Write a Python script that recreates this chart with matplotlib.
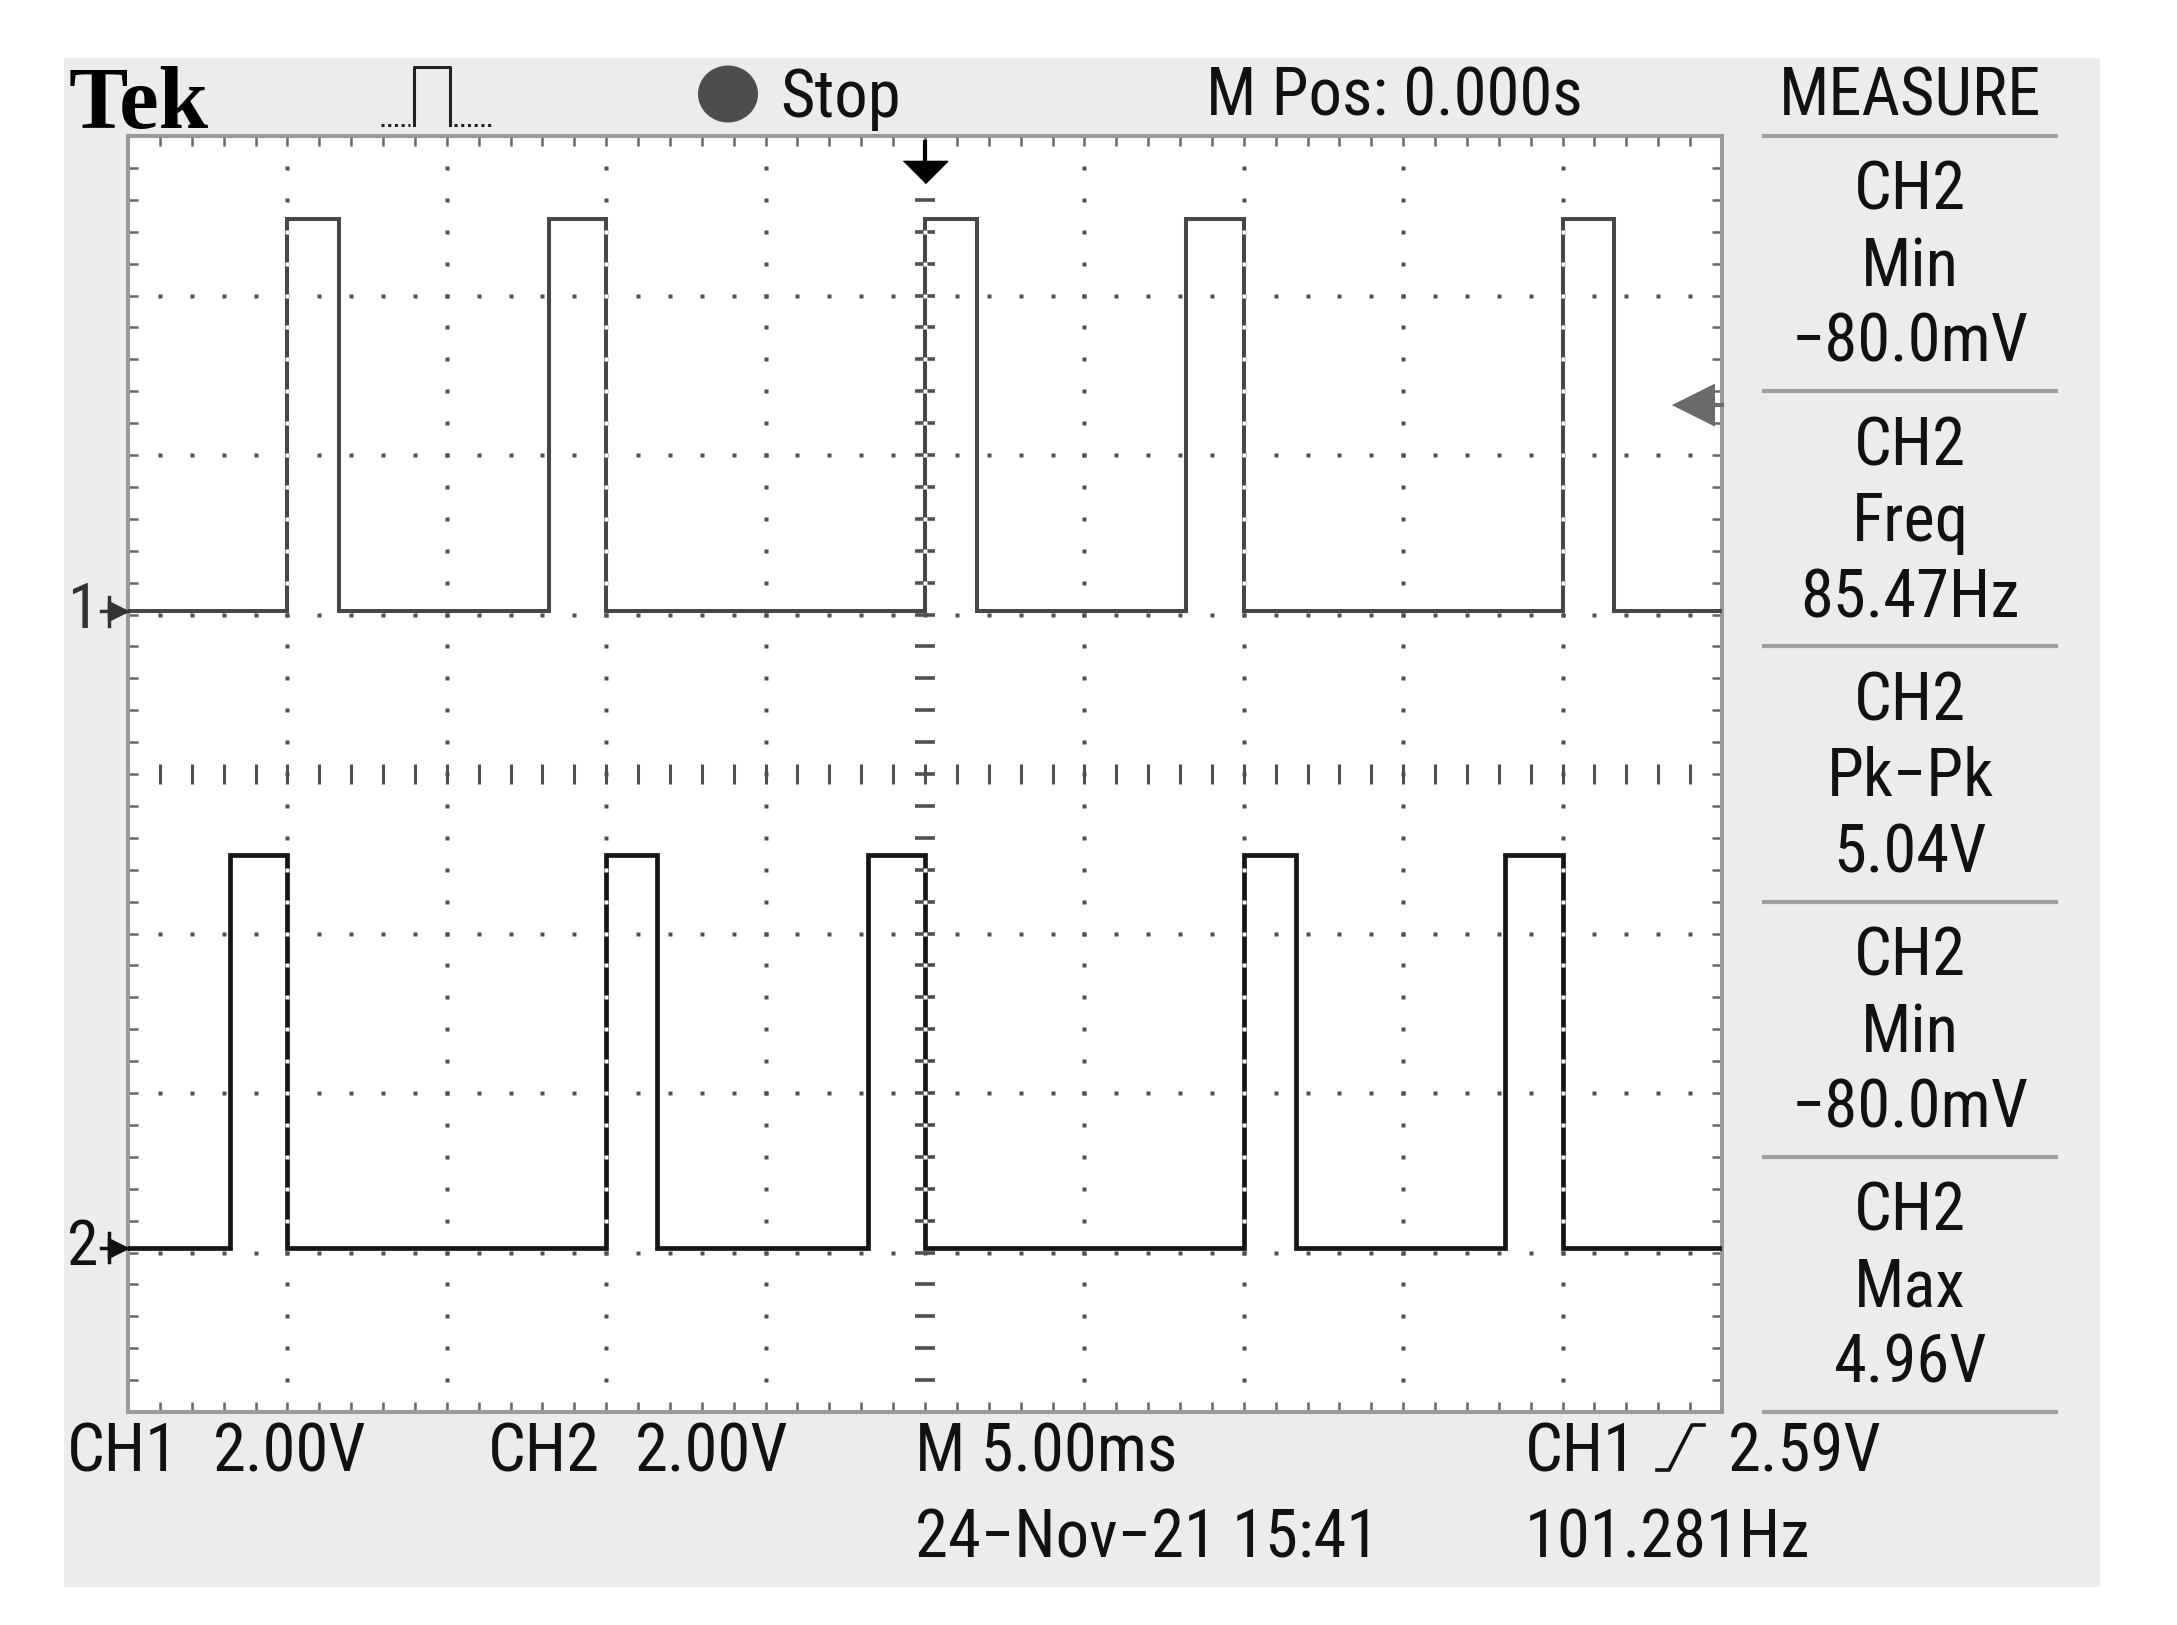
import numpy as np
import matplotlib
matplotlib.use("Agg")
import matplotlib.pyplot as plt
from matplotlib.patches import Rectangle, Ellipse
from matplotlib.lines import Line2D
from matplotlib import font_manager

# ---------------- data ----------------
ms_per_div = 5.0
v_per_div = 2.0
# CH1 pulse edges (ms, trigger at 0)
ch1_rise_ms = [-20.0, -11.8, 0.0, 8.2, 20.0]
ch1_fall_ms = [-18.38, -10.0, 1.62, 10.0, 21.62]
ch1_low_v, ch1_high_v = 0.0, 4.92
# CH2 pulse edges (ms)
ch2_rise_ms = [-21.8, -10.0, -1.78, 10.0, 18.2]
ch2_fall_ms = [-20.0, -8.42, 0.0, 11.63, 20.0]
ch2_low_v, ch2_high_v = 0.0, 4.92
trigger_level_v = 2.59

meas_channels = ["CH2", "CH2", "CH2", "CH2", "CH2"]
meas_names = ["Min", "Freq", "Pk\u2212Pk", "Min", "Max"]
meas_values = ["\u221280.0mV", "85.47Hz", "5.04V", "\u221280.0mV", "4.96V"]

# ---------------- layout helpers ----------------
W, H = 2177, 1625
fig = plt.figure(figsize=(W / 100, H / 100), dpi=100)
fig.patch.set_facecolor("white")


def fx(px):
    return px / W


def fy(py):
    return 1 - py / H


# pick a narrow sans font if one is installed
ttf = font_manager.fontManager.ttflist
prefs = [("Liberation Sans Narrow", None, 48), ("Roboto Condensed", None, 48),
         ("Noto Sans Condensed", None, 47), ("Open Sans Condensed", None, 46),
         ("DejaVu Sans", "condensed", 45), ("Noto Sans", "condensed", 47),
         ("Liberation Sans", None, 42)]
fam, stretch, fs = "DejaVu Sans", None, 40
for name, st, size in prefs:
    if any(f.name == name and (st is None or f.stretch == st) and f.style == "normal"
           for f in ttf):
        fam, stretch, fs = name, st, size
        break
TXT = dict(family=[fam, "DejaVu Sans"], color="#111111", fontsize=fs)
if stretch:
    TXT["fontstretch"] = stretch

# gray instrument panel
fig.add_artist(Rectangle((fx(64), fy(1587)), fx(2100) - fx(64), fy(58) - fy(1587),
                         transform=fig.transFigure, facecolor="#ececec",
                         edgecolor="none", zorder=-5))

# ---------------- scope screen ----------------
ax = fig.add_axes([fx(128), fy(1412), fx(1722) - fx(128), fy(136) - fy(1412)])
ax.set_facecolor("white")
ax.set_xlim(-5 * ms_per_div, 5 * ms_per_div)
ax.set_ylim(-4, 4)
x0, x1 = ax.get_xlim()

# border ticks every 1/5 division
ax.set_xticks(np.arange(x0, x1 + 1e-6, ms_per_div / 5))
ax.set_yticks(np.arange(-4, 4 + 1e-6, 0.2))
ax.tick_params(direction="in", length=7, width=1.8, color="#666666",
               top=True, right=True, labelbottom=False, labelleft=False)
for s in ax.spines.values():
    s.set_color("#9a9a9a")
    s.set_linewidth(2.9)

grid_col = "#505050"
minor_x = np.arange(x0 + 1, x1 - 0.5, ms_per_div / 5)
minor_y = np.arange(-3.8, 3.81, 0.2)
# dotted vertical graticule lines
for gx in np.arange(x0 + ms_per_div, x1 - 1e-6, ms_per_div):
    if abs(gx) < 1e-9:
        continue
    ax.plot(np.full_like(minor_y, gx), minor_y, ls="none", marker="s", ms=2.3,
            mec="none", mfc=grid_col, zorder=1)
# dotted horizontal graticule lines
for gy in range(-3, 4):
    if gy == 0:
        continue
    ax.plot(minor_x, np.full_like(minor_x, gy), ls="none", marker="s", ms=2.3,
            mec="none", mfc=grid_col, zorder=1)
# centre cross with small ticks
ax.plot(minor_x, np.zeros_like(minor_x), ls="none", marker="|", ms=14, mew=2.2,
        color=grid_col, zorder=1)
ax.plot(np.zeros_like(minor_y), minor_y, ls="none", marker="_", ms=14, mew=2.6,
        color=grid_col, zorder=1)


def step_trace(rise, fall, lo, hi):
    t, v = [x0], [lo]
    for r, f in zip(rise, fall):
        t += [r, r, f, f]
        v += [lo, hi, hi, lo]
    t.append(x1)
    v.append(lo)
    return np.array(t), np.array(v)


ch1_pos = 1.02   # ground marker position (div)
ch2_pos = -2.97

channels = [
    (ch1_rise_ms, ch1_fall_ms, ch1_low_v, ch1_high_v, ch1_pos, "#474747", 2.9),
    (ch2_rise_ms, ch2_fall_ms, ch2_low_v, ch2_high_v, ch2_pos, "#151515", 3.4),
]
for rise, fall, lo, hi, pos, col, lw in channels:
    t, v = step_trace(rise, fall, lo, hi)
    ax.plot(t, pos + v / v_per_div, color=col, lw=lw, solid_joinstyle="miter", zorder=3)
    # XOR look where an edge lies on a graticule line
    ylo, yhi = pos + lo / v_per_div, pos + hi / v_per_div
    for e in list(rise) + list(fall):
        if abs(e / ms_per_div - round(e / ms_per_div)) < 1e-6:
            ys = minor_y[(minor_y > ylo + 0.05) & (minor_y < yhi - 0.05)]
            ax.plot(np.full_like(ys, e), ys, ls="none", marker="s", ms=2.6,
                    mec="none", mfc="white", zorder=4)

# ground markers
ytr = ax.get_yaxis_transform()
for lbl, pos, col in [("1", ch1_pos, "#333333"), ("2", ch2_pos, "#111111")]:
    ax.text(-0.038, pos, lbl, transform=ytr, ha="left", va="center",
            **{**TXT, "color": col, "fontsize": fs * 0.95}, clip_on=False)
    ax.plot([-0.017, 0.0], [pos, pos], transform=ytr, color=col, lw=2.5, clip_on=False, zorder=5)
    ax.plot([-0.012, -0.012], [pos - 0.09, pos + 0.09], transform=ytr, color=col, lw=2.5,
            clip_on=False, zorder=5)
    ax.plot([-0.006], [pos], transform=ytr, marker=">", ms=14, color=col,
            mec=col, clip_on=False, zorder=5)

# trigger position marker (top) and trigger level marker (right)
xtr = ax.get_xaxis_transform()
ax.plot([0, 0], [0.995, 0.975], transform=xtr, color="black", lw=3, zorder=5, clip_on=False)
ax.plot([0], [0.9715], transform=xtr, marker=[(-1, 0.5), (1, 0.5), (0, -0.5)],
        ms=32, color="black", mec="black", zorder=5, clip_on=False)
trig_y = ch1_pos + trigger_level_v / v_per_div
ax.plot([0.985, 1.0], [trig_y, trig_y], transform=ytr, color="#6a6a6a", lw=3, zorder=5, clip_on=False)
ax.plot([0.982], [trig_y], transform=ytr, marker=[(-1, 0), (1, 1), (1, -1)],
        ms=30, color="#6a6a6a", mec="#6a6a6a", zorder=5, clip_on=False)

# ---------------- top bar ----------------
fig.text(fx(69), fy(128), "Tek", family=["Liberation Serif", "DejaVu Serif"],
         weight="bold", fontsize=64, color="black", ha="left", va="baseline")
# acquisition icon
fig.add_artist(Line2D([fx(414), fx(414), fx(450), fx(450)], [fy(125), fy(67), fy(67), fy(125)],
                      transform=fig.transFigure, color="#222222", lw=2.2))
for xa, xb in [(381, 410), (454, 494)]:
    fig.add_artist(Line2D([fx(xa), fx(xb)], [fy(125), fy(125)], transform=fig.transFigure,
                          color="#222222", lw=2.2, ls=(0, (1, 1.2))))
fig.add_artist(Ellipse((fx(728), fy(94)), 60 / W, 57 / H, transform=fig.transFigure,
                       facecolor="#4d4d4d", edgecolor="none"))
fig.text(fx(780), fy(117), "Stop", ha="left", va="baseline", **TXT)
fig.text(fx(1206), fy(115), "M Pos: 0.000s", ha="left", va="baseline", **TXT)
fig.text(fx(1910), fy(115), "MEASURE", ha="center", va="baseline", **TXT)

# ---------------- measurement panel ----------------
block_h = 255.2
for k in range(6):
    ys = 136 + k * block_h
    fig.add_artist(Line2D([fx(1764), fx(2056)], [fy(ys), fy(ys)], transform=fig.transFigure,
                          color="#a0a0a0", lw=3))
for i, (c, n, v) in enumerate(zip(meas_channels, meas_names, meas_values)):
    base = 136 + i * block_h
    for off, s in [(74, c), (150, n), (226, v)]:
        fig.text(fx(1910), fy(base + off), s, ha="center", va="baseline", **TXT)

# ---------------- bottom status lines ----------------
bottom = [("CH1", 67, 1472), ("2.00V", 213, 1472), ("CH2", 488, 1472), ("2.00V", 635, 1472),
          ("M 5.00ms", 915, 1472), ("24\u2212Nov\u221221 15:41", 915, 1557),
          ("CH1", 1525, 1472), ("2.59V", 1728, 1472), ("101.281Hz", 1525, 1557)]
for s, px, py in bottom:
    fig.text(fx(px), fy(py), s, ha="left", va="baseline", **TXT)
# rising-edge trigger symbol
fig.add_artist(Line2D([fx(1657), fx(1669), fx(1692), fx(1704)],
                      [fy(1470), fy(1470), fy(1425), fy(1425)],
                      transform=fig.transFigure, color="#111111", lw=2.6))

fig.savefig("out.png", dpi=100, facecolor="white")
